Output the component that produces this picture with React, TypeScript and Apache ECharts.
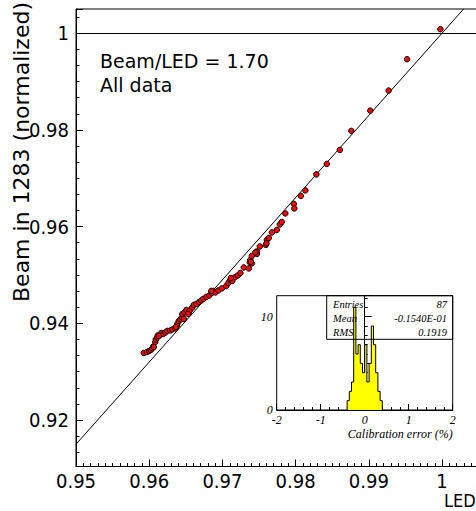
import React, { useEffect, useRef } from "react";
import * as echarts from "echarts";

// Main scatter: LED (x) vs Beam (y), normalized
const ledValues = [
  0.95926, 0.95967, 0.96001, 0.96022, 0.96042, 0.96056, 0.96083, 0.9609, 0.96111, 0.96117,
  0.96152, 0.96165, 0.96193, 0.9622, 0.96247, 0.96288, 0.96316, 0.96357, 0.96377, 0.96384,
  0.96404, 0.96425, 0.96445, 0.96452, 0.9648, 0.96507, 0.96534, 0.96555, 0.96589, 0.96609,
  0.96643, 0.96684, 0.96712, 0.96739, 0.9678, 0.96821, 0.96855, 0.96876, 0.96903, 0.96944,
  0.96992, 0.97053, 0.97081, 0.97108, 0.97135, 0.97176, 0.9721, 0.97245, 0.97292, 0.97361,
  0.97374, 0.97402, 0.97381, 0.97402, 0.9747, 0.9747, 0.97511, 0.97593, 0.97607, 0.97634,
  0.97675, 0.97743, 0.97784, 0.97811, 0.97859, 0.97975, 0.97982, 0.98071, 0.98133, 0.98283,
  0.98426, 0.98604, 0.98761, 0.9902, 0.9927, 0.99522, 0.99977, 0.97388, 0.97449, 0.96063,
  0.96131, 0.96363, 0.96473, 0.96534, 0.97602, 0.97115, 0.96848,
];
const beamValues = [
  0.93388, 0.93408, 0.93429, 0.9345, 0.93481, 0.93522, 0.93615, 0.93667, 0.93708, 0.9375,
  0.9376, 0.93801, 0.93781, 0.93812, 0.93843, 0.93853, 0.93874, 0.93895, 0.93946, 0.93988,
  0.9405, 0.94081, 0.94122, 0.94194, 0.94225, 0.94277, 0.94215, 0.94267, 0.94329, 0.94381,
  0.94401, 0.94443, 0.94474, 0.94505, 0.94546, 0.94577, 0.94629, 0.9467, 0.94639, 0.9468,
  0.94722, 0.94774, 0.94836, 0.94898, 0.94877, 0.9496, 0.94991, 0.95042, 0.95156, 0.95135,
  0.9526, 0.95239, 0.95311, 0.95394, 0.95435, 0.95487, 0.9559, 0.95622, 0.95725, 0.95766,
  0.9588, 0.95932, 0.96046, 0.96097, 0.96273, 0.9647, 0.96376, 0.96635, 0.96749, 0.9708,
  0.97297, 0.97586, 0.97979, 0.98399, 0.98813, 0.99462, 1.00083, 0.9527, 0.95466, 0.93512,
  0.9374, 0.93926, 0.94091, 0.94194, 0.95653, 0.94939, 0.9467,
];

// Fit: Beam = 1 + slope * (LED - 1)
const fitSlope = 1.7;
const xRange = [0.95, 1.006];
const yRange = [0.9104, 1.005];

// Inset histogram of calibration error (%)
const histLowEdges = [
  -0.4, -0.35, -0.3, -0.25, -0.2, -0.15, -0.1, -0.05, 0.0, 0.05, 0.1, 0.15, 0.2, 0.25, 0.3, 0.35,
];
const histCounts = [1, 2, 3, 11, 6, 7, 5, 4, 7, 3, 5, 9, 7, 4, 2, 1];
const histBinWidth = 0.05;

const statsLabels = ["Entries", "Mean", "RMS"];
const statsValues = ["87", "-0.1540E-01", "0.1919"];

const NARROW = "'Liberation Sans Narrow', 'DejaVu Sans Condensed', 'Liberation Sans', sans-serif";
const WIDE = "'DejaVu Sans', 'Liberation Sans', sans-serif";
const SERIF = "'Liberation Serif', 'DejaVu Serif', serif";

export default function App() {
  const ref = useRef<HTMLDivElement>(null);

  useEffect(() => {
    if (!ref.current) return;
    const chart = echarts.init(ref.current, null, { renderer: "svg" });

    const scatterData = ledValues.map((x, i) => [x, beamValues[i]]);
    const fitX0 = xRange[0];
    const fitX1 = 1 + (yRange[1] - 1) / fitSlope;
    const fitData = [
      [fitX0, 1 + fitSlope * (fitX0 - 1)],
      [fitX1, 1 + fitSlope * (fitX1 - 1)],
    ];

    const histData: number[][] = [[histLowEdges[0], 0]];
    histLowEdges.forEach((e, i) => histData.push([e, histCounts[i]]));
    histData.push([histLowEdges[histLowEdges.length - 1] + histBinWidth, 0]);

    const fmtMain = (v: number) => (Math.abs(v - 1) < 1e-9 ? "1" : v.toFixed(2));

    const statsGraphics: any[] = [];
    statsLabels.forEach((lab, i) => {
      const y = 304.5 + i * 14.2;
      statsGraphics.push({
        type: "text",
        x: 333,
        y,
        z: 20,
        style: { text: lab, fill: "#000", font: `italic 10.5px ${SERIF}`, textAlign: "left", textVerticalAlign: "middle" },
      });
      statsGraphics.push({
        type: "text",
        x: 447,
        y,
        z: 20,
        style: { text: statsValues[i], fill: "#000", font: `italic 10.5px ${SERIF}`, textAlign: "right", textVerticalAlign: "middle" },
      });
    });

    const option: any = {
      animation: false,
      backgroundColor: "#fff",
      grid: [
        {
          left: 76,
          top: 9,
          width: 410,
          bottom: 44.5,
          outerBoundsMode: "none",
          containLabel: false,
          show: true,
          borderColor: "#000",
          borderWidth: 1,
          backgroundColor: "transparent",
        },
        {
          left: 276.7,
          top: 295.7,
          width: 176,
          height: 114.3,
          outerBoundsMode: "none",
          containLabel: false,
          show: true,
          borderColor: "#000",
          borderWidth: 1,
          backgroundColor: "#fff",
          z: 5,
        },
      ],
      xAxis: [
        {
          type: "value",
          gridIndex: 0,
          min: xRange[0],
          max: xRange[1],
          splitNumber: 5,
          axisLine: { show: true, lineStyle: { color: "#000", width: 1 } },
          axisTick: { show: true, inside: true, length: 7, lineStyle: { color: "#000" } },
          minorTick: { show: true, splitNumber: 10, length: 3.5, lineStyle: { color: "#000" } },
          splitLine: { show: false },
          minorSplitLine: { show: false },
          axisLabel: {
            show: true,
            color: "#000",
            fontSize: 20,
            fontFamily: NARROW,
            margin: 4,
            showMaxLabel: false,
            formatter: fmtMain,
          },
        },
        {
          type: "value",
          gridIndex: 1,
          min: -2,
          max: 2,
          interval: 1,
          axisLine: { show: true, lineStyle: { color: "#000", width: 1 } },
          axisTick: { show: true, inside: true, length: 6, lineStyle: { color: "#000" } },
          minorTick: { show: true, splitNumber: 5, length: 3, lineStyle: { color: "#000" } },
          splitLine: { show: false },
          axisLabel: {
            show: true,
            color: "#000",
            fontSize: 12,
            fontFamily: SERIF,
            fontStyle: "italic",
            margin: 4,
            formatter: (v: number) => String(v),
          },
          z: 6,
        },
      ],
      yAxis: [
        {
          type: "value",
          gridIndex: 0,
          min: yRange[0],
          max: yRange[1],
          splitNumber: 5,
          axisLine: { show: true, lineStyle: { color: "#000", width: 1 } },
          axisTick: { show: true, inside: true, length: 7, lineStyle: { color: "#000" } },
          minorTick: { show: true, splitNumber: 6, length: 3.5, lineStyle: { color: "#000" } },
          splitLine: { show: false },
          minorSplitLine: { show: false },
          axisLabel: {
            show: true,
            color: "#000",
            fontSize: 20,
            fontFamily: NARROW,
            margin: 7,
            showMinLabel: false,
            showMaxLabel: false,
            formatter: fmtMain,
          },
        },
        {
          type: "value",
          gridIndex: 1,
          min: 0,
          max: 12.25,
          interval: 5,
          axisLine: { show: true, lineStyle: { color: "#000", width: 1 } },
          axisTick: { show: true, inside: true, length: 7, lineStyle: { color: "#000" } },
          minorTick: { show: true, splitNumber: 5, length: 3, lineStyle: { color: "#000" } },
          splitLine: { show: false },
          axisLabel: {
            show: true,
            color: "#000",
            fontSize: 12,
            fontFamily: SERIF,
            fontStyle: "italic",
            margin: 4,
            showMaxLabel: false,
            formatter: (v: number) => (v === 0 || v === 10 ? String(v) : ""),
          },
          z: 6,
        },
      ],
      series: [
        {
          type: "line",
          xAxisIndex: 0,
          yAxisIndex: 0,
          data: fitData,
          symbol: "none",
          lineStyle: { color: "#000", width: 1 },
          silent: true,
          z: 2,
        },
        {
          type: "scatter",
          xAxisIndex: 0,
          yAxisIndex: 0,
          data: scatterData,
          symbol: "circle",
          symbolSize: 5.5,
          itemStyle: { color: "#ff0000", borderColor: "#000", borderWidth: 1, opacity: 1 },
          z: 3,
          markLine: {
            silent: true,
            symbol: ["none", "none"],
            label: { show: false },
            lineStyle: { color: "#000", width: 1, type: "solid" },
            data: [{ yAxis: 1 }],
          },
        },
        {
          type: "line",
          xAxisIndex: 1,
          yAxisIndex: 1,
          data: histData,
          step: "end",
          symbol: "none",
          lineStyle: { color: "#000", width: 1 },
          areaStyle: { color: "#ffff00", opacity: 1 },
          silent: true,
          z: 7,
        },
      ],
      graphic: [
        {
          type: "text",
          x: 100,
          y: 61,
          style: { text: "Beam/LED = 1.70", fill: "#000", font: `19px ${WIDE}`, textAlign: "left", textVerticalAlign: "middle" },
        },
        {
          type: "text",
          x: 100,
          y: 85,
          style: { text: "All data", fill: "#000", font: `19px ${WIDE}`, textAlign: "left", textVerticalAlign: "middle" },
        },
        {
          type: "text",
          x: 21,
          y: 2,
          rotation: Math.PI / 2,
          style: {
            text: "Beam in 1283 (normalized)",
            fill: "#000",
            font: `22px ${WIDE}`,
            textAlign: "right",
            textVerticalAlign: "middle",
          },
        },
        {
          type: "text",
          x: 444,
          y: 500.5,
          style: { text: "LED", fill: "#000", font: `18px ${NARROW}`, textAlign: "left", textVerticalAlign: "middle" },
        },
        {
          type: "text",
          x: 452.7,
          y: 434,
          z: 20,
          style: {
            text: "Calibration error (%)",
            fill: "#000",
            font: `italic 12px ${SERIF}`,
            textAlign: "right",
            textVerticalAlign: "middle",
          },
        },
        {
          type: "rect",
          z: 20,
          shape: { x: 326.7, y: 295.7, width: 126, height: 43.6 },
          style: { fill: "none", stroke: "#000", lineWidth: 1 },
        },
        ...statsGraphics,
      ],
    };

    chart.setOption(option);
    return () => chart.dispose();
  }, []);

  return (
    <div
      ref={ref}
      style={{ position: "absolute", left: 0, top: 0, width: 476, height: 511, background: "#fff" }}
    />
  );
}
